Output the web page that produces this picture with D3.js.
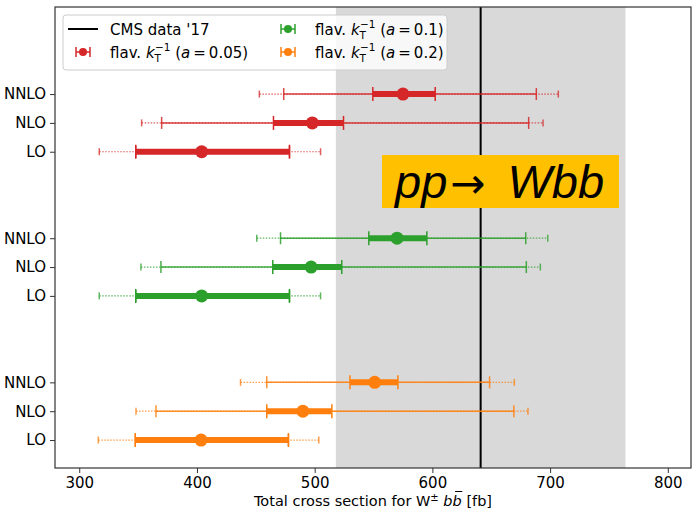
<!DOCTYPE html>
<html>
<head>
<meta charset="utf-8">
<script src="https://cdn.jsdelivr.net/npm/d3@7"></script>
<style>
  body { margin: 0; background: #fff; }
  svg { font-family: "DejaVu Sans", sans-serif; }
</style>
</head>
<body>
<svg width="692" height="511"></svg>
<script>
// orders, groups (bottom to top)
const orders = ["LO", "NLO", "NNLO"];
const groups = ["a=0.2", "a=0.1", "a=0.05"];
const colors = ["#ff7f0e", "#2ca02c", "#d62728"];

// central values per group, per order
const central = [[403.5, 490, 551], [404, 497, 570], [404, 498, 575]];
// thick band [lo, hi]
const thickLo = [[347.6, 459.3, 530], [348, 464.4, 546], [348, 465, 549.4]];
const thickHi = [[477.7, 514.6, 570.7], [478.6, 523, 595.3], [478.6, 524.5, 602.4]];
// thin band
const thinLo = [[347.6, 365.2, 459.3], [348, 369.4, 471], [348, 370, 473.7]];
const thinHi = [[477.7, 669.2, 648.6], [478.6, 679.8, 679.3], [478.6, 681.8, 688.3]];
// dotted band
const dotLo = [[316.2, 348.2, 437], [317, 352.4, 450.8], [317, 353, 453]];
const dotHi = [[503.5, 681.2, 669.6], [505, 691.7, 698], [505, 694, 707]];

const cmsValue = 641;
const cmsLo = 518;
const cmsHi = 764;
const xTicks = [300, 400, 500, 600, 700, 800];

const svg = d3.select("svg");
const mLeft = 55, mRight = 691, mTop = 7, mBottom = 468;

const x = d3.scaleLinear().domain([279.4, 819.7]).range([mLeft, mRight]);
const y = d3.scaleLinear().domain([-0.97, 15.02]).range([mBottom, mTop]);

// CMS band
svg.append("rect")
  .attr("x", x(cmsLo)).attr("y", mTop)
  .attr("width", x(cmsHi) - x(cmsLo)).attr("height", mBottom - mTop)
  .attr("fill", "#d9d9d9");
svg.append("line")
  .attr("x1", x(cmsValue)).attr("x2", x(cmsValue))
  .attr("y1", mTop).attr("y2", mBottom)
  .attr("stroke", "#000").attr("stroke-width", 2);

// rows
const rows = [];
groups.forEach((g, gi) => {
  orders.forEach((o, oi) => {
    rows.push({
      pos: gi * 5 + oi, color: colors[gi],
      c: central[gi][oi],
      tl: thickLo[gi][oi], th: thickHi[gi][oi],
      nl: thinLo[gi][oi], nh: thinHi[gi][oi],
      dl: dotLo[gi][oi], dh: dotHi[gi][oi]
    });
  });
});

const rg = svg.selectAll(".row").data(rows).join("g")
  .attr("class", "row")
  .attr("transform", d => `translate(0,${y(d.pos)})`);

function cap(sel, xv, h, w, op) {
  sel.append("line")
    .attr("x1", d => x(xv(d))).attr("x2", d => x(xv(d)))
    .attr("y1", -h).attr("y2", h)
    .attr("stroke", d => d.color).attr("stroke-width", w)
    .attr("opacity", op);
}

// dotted
rg.append("line")
  .attr("x1", d => x(d.dl)).attr("x2", d => x(d.dh))
  .attr("stroke", d => d.color).attr("stroke-width", 1.2)
  .attr("stroke-dasharray", "1.5,1.5").attr("opacity", 0.75);
cap(rg, d => d.dl, 3.5, 1.5, 0.75);
cap(rg, d => d.dh, 3.5, 1.5, 0.75);

// thin
rg.append("line")
  .attr("x1", d => x(d.nl)).attr("x2", d => x(d.nh))
  .attr("stroke", d => d.color).attr("stroke-width", 1.5).attr("opacity", 0.85);
cap(rg, d => d.nl, 6, 1.5, 0.85);
cap(rg, d => d.nh, 6, 1.5, 0.85);

// thick
rg.append("line")
  .attr("x1", d => x(d.tl)).attr("x2", d => x(d.th))
  .attr("stroke", d => d.color).attr("stroke-width", 6);
cap(rg, d => d.tl, 7, 1.5, 1);
cap(rg, d => d.th, 7, 1.5, 1);

rg.append("circle")
  .attr("cx", d => x(d.c)).attr("r", 6.5)
  .attr("fill", d => d.color);

// axes
const xAxis = svg.append("g")
  .attr("transform", `translate(0,${mBottom})`)
  .call(d3.axisBottom(x).tickValues(xTicks).tickSize(5).tickPadding(4));
const yAxis = svg.append("g")
  .attr("transform", `translate(${mLeft},0)`)
  .call(d3.axisLeft(y).tickValues(rows.map(d => d.pos))
    .tickFormat(p => orders[p % 5]).tickSize(5).tickPadding(4));
[xAxis, yAxis].forEach(a => {
  a.selectAll("text").attr("font-size", 15).attr("fill", "#000")
    .attr("font-family", "DejaVu Sans, sans-serif");
  a.select(".domain").remove();
  a.selectAll(".tick line").attr("stroke", "#333").attr("stroke-width", 1);
});

// spines
svg.append("rect")
  .attr("x", mLeft).attr("y", mTop)
  .attr("width", mRight - mLeft).attr("height", mBottom - mTop)
  .attr("fill", "none").attr("stroke", "#333").attr("stroke-width", 1.2);

// x label (bar over second b drawn by hand)
const xl = svg.append("text")
  .attr("x", 373).attr("y", 505.5)
  .attr("text-anchor", "middle").attr("font-size", 14.5);
xl.append("tspan").text("Total cross section for W");
xl.append("tspan").attr("dy", -5).attr("font-size", 10).text("±");
xl.append("tspan").attr("dy", 5).text(" ");
xl.append("tspan").attr("font-style", "italic").text("b");
const bb = xl.append("tspan").attr("font-style", "italic").text("b");
xl.append("tspan").text(" [fb]");
const bx = bb.node().getStartPositionOfChar(0).x;
const bw = bb.node().getComputedTextLength();
svg.append("line")
  .attr("x1", bx + 2.5).attr("x2", bx + bw + 0.5)
  .attr("y1", 491.5).attr("y2", 491.5)
  .attr("stroke", "#000").attr("stroke-width", 1);

// legend
const lg = svg.append("g");
lg.append("rect")
  .attr("x", 63).attr("y", 15).attr("width", 384).attr("height", 55)
  .attr("rx", 3).attr("fill", "#fff").attr("fill-opacity", 0.8)
  .attr("stroke", "#ccc");

const legendItems = [
  { type: "line", color: "#000", lx: 83, ly: 29 },
  { type: "err", a: "0.05", color: colors[2], lx: 83, ly: 52 },
  { type: "err", a: "0.1", color: colors[1], lx: 288, ly: 29 },
  { type: "err", a: "0.2", color: colors[0], lx: 288, ly: 52 }
];
legendItems.forEach(it => {
  const g = lg.append("g").attr("transform", `translate(${it.lx},${it.ly})`);
  if (it.type === "line") {
    g.append("line").attr("x1", -15).attr("x2", 15)
      .attr("stroke", "#000").attr("stroke-width", 2);
    g.append("text").attr("x", 27).attr("y", 5.5).attr("font-size", 15).text("CMS data '17");
  } else {
    g.append("line").attr("x1", -7).attr("x2", 7)
      .attr("stroke", it.color).attr("stroke-width", 1.5);
    [-7, 7].forEach(cx => g.append("line").attr("x1", cx).attr("x2", cx)
      .attr("y1", -5).attr("y2", 5).attr("stroke", it.color).attr("stroke-width", 1.5));
    g.append("circle").attr("r", 4).attr("fill", it.color);
    const t = g.append("text").attr("x", 27).attr("y", 5.5).attr("font-size", 15);
    t.append("tspan").text("flav. ");
    t.append("tspan").attr("font-style", "italic").text("k");
    t.append("tspan").attr("dy", 4).attr("font-size", 10.5).text("T");
    t.append("tspan").attr("dy", -11).attr("dx", -6).attr("font-size", 10.5).text("\u22121");
    t.append("tspan").attr("dy", 7).text(" (");
    t.append("tspan").attr("font-style", "italic").text("a");
    t.append("tspan").text("\u2009=\u2009" + it.a + ")");
  }
});

// process label box
svg.append("rect")
  .attr("x", 382).attr("y", 155).attr("width", 237).attr("height", 53)
  .attr("fill", "#ffc000");
const pl = svg.append("text")
  .attr("x", 395).attr("y", 198)
  .attr("font-size", 47).attr("font-style", "italic")
  .attr("font-family", "Liberation Sans, Arial, sans-serif");
pl.append("tspan").text("pp");
pl.append("tspan").attr("font-style", "normal")
  .attr("font-family", "DejaVu Sans, sans-serif").attr("font-size", 42)
  .attr("dx", 3).text("\u2192");
pl.append("tspan").attr("dx", 22).text("Wbb");
</script>
</body>
</html>
